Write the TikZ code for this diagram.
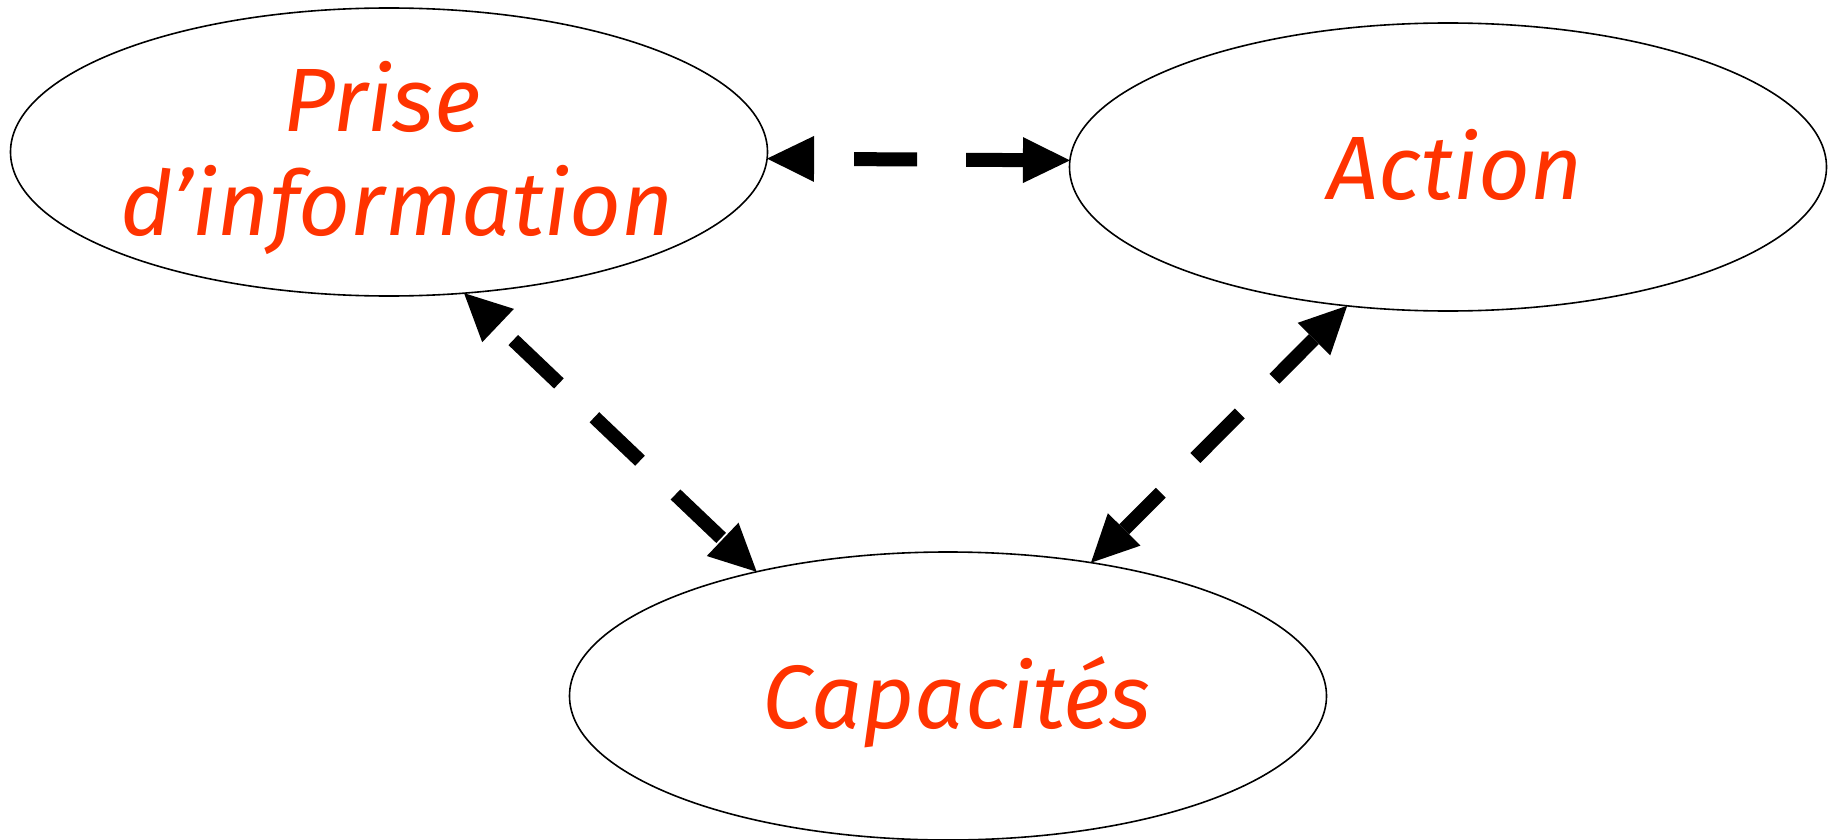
\documentclass[tikz,border=0pt]{standalone}
\usepackage{fontspec}
\setmainfont{Fira Sans}
\usetikzlibrary{shapes.geometric,arrows.meta}
\definecolor{txtred}{RGB}{255,51,0}
\begin{document}
\begin{tikzpicture}[x=1pt,y=-1pt,
  blob/.style={ellipse,draw=black,line width=1.6pt,fill=white,minimum width=757pt,minimum height=288pt,inner sep=0pt,outer sep=0pt},
  lbl/.style={anchor=base,inner sep=0pt,text=txtred,font=\fontsize{90}{103}\selectfont\itshape},
  conn/.style={line width=14pt,dash pattern=on 63pt off 49pt,
    {Triangle[length=47pt,width=46pt,line width=0pt]}-{Triangle[length=47pt,width=46pt,line width=0pt]}}]
\useasboundingbox (0,0) rectangle (1837,840);
\node[blob] (e1) at (389,152) {};
\node[blob] (e2) at (1448,167) {};
\node[blob] (e3) at (948,696) {};
\node[lbl] (t1a) at (382,132) {Prise};
\node[lbl] (t1b) at (397,235) {d'information};
\node[lbl] (t2) at (1455,199) {Action};
\node[lbl] (t3) at (957,728) {Capacités};
\draw[conn,dash phase=72pt] (e1.-1) -- (e2.179);
\draw[conn,dash phase=91pt] (e1.-62) -- (e3.147);
\draw[conn,dash phase=7pt] (e2.-126) -- (e3.43);
\end{tikzpicture}
\end{document}
